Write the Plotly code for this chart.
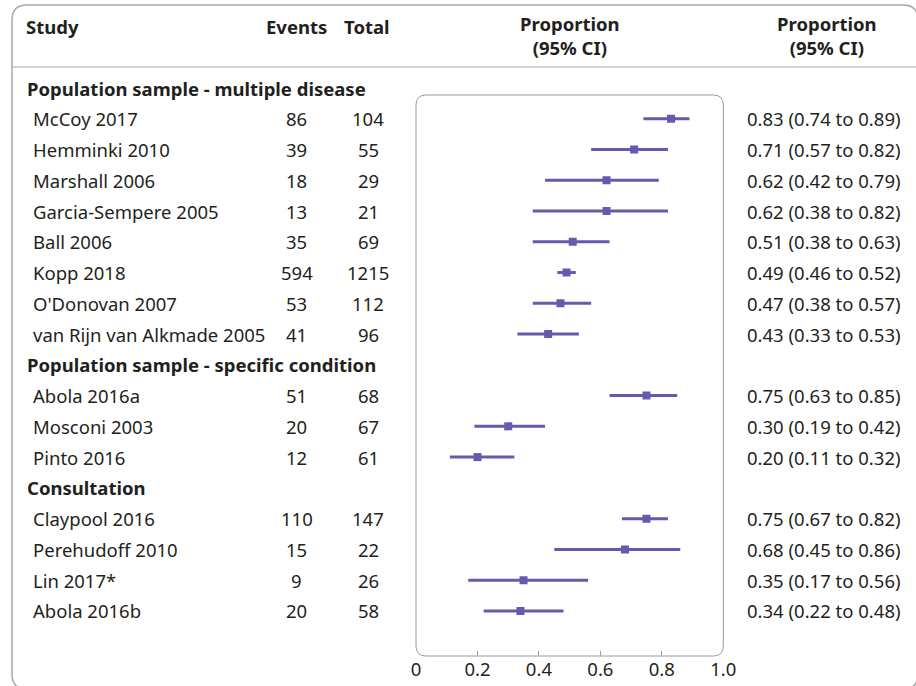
import plotly.graph_objects as go

# ---------------- data ----------------
groups = ["Population sample - multiple disease",
          "Population sample - specific condition",
          "Consultation"]
studies = ["McCoy 2017", "Hemminki 2010", "Marshall 2006", "Garcia-Sempere 2005",
           "Ball 2006", "Kopp 2018", "O'Donovan 2007", "van Rijn van Alkmade 2005",
           "Abola 2016a", "Mosconi 2003", "Pinto 2016",
           "Claypool 2016", "Perehudoff 2010", "Lin 2017*", "Abola 2016b"]
group_of = [0, 0, 0, 0, 0, 0, 0, 0, 1, 1, 1, 2, 2, 2, 2]
events = [86, 39, 18, 13, 35, 594, 53, 41, 51, 20, 12, 110, 15, 9, 20]
totals = [104, 55, 29, 21, 69, 1215, 112, 96, 68, 67, 61, 147, 22, 26, 58]
prop = [0.83, 0.71, 0.62, 0.62, 0.51, 0.49, 0.47, 0.43, 0.75, 0.30, 0.20, 0.75, 0.68, 0.35, 0.34]
ci_lo = [0.74, 0.57, 0.42, 0.38, 0.38, 0.46, 0.38, 0.33, 0.63, 0.19, 0.11, 0.67, 0.45, 0.17, 0.22]
ci_hi = [0.89, 0.82, 0.79, 0.82, 0.63, 0.52, 0.57, 0.53, 0.85, 0.42, 0.32, 0.82, 0.86, 0.56, 0.48]
tick_vals = [0, 0.2, 0.4, 0.6, 0.8, 1.0]
tick_text = ["0", "0.2", "0.4", "0.6", "0.8", "1.0"]

# ---------------- layout constants (reference pixels) ----------------
W, H = 916, 686
ROW0, ROWH = 88, 30.76
FL, FR = 416, 723.3          # forest x-range in px
BOX_T, BOX_B = 95, 656
TXT = "#231f20"
PURPLE = "#6a58ad"
GRAY = "#a8a8a8"
FONT = "Noto Sans"
FS = 18.5

# row indices
group_rows, study_rows = [], []
r = 0
for g in range(len(groups)):
    group_rows.append(r)
    r += 1
    for i in range(len(studies)):
        if group_of[i] == g:
            study_rows.append(r)
            r += 1

fig = go.Figure()
fig.add_trace(go.Scatter(
    x=prop, y=study_rows, mode="markers",
    marker=dict(symbol="square", size=8, color=PURPLE),
    error_x=dict(type="data", symmetric=False,
                 array=[h - p for h, p in zip(ci_hi, prop)],
                 arrayminus=[p - l for p, l in zip(prop, ci_lo)],
                 thickness=3, width=0, color=PURPLE),
    hoverinfo="skip", showlegend=False))


def px(x):
    return x / W


def py(y):
    return 1 - y / H


def rrect(x0, y0, x1, y1, rad):
    def P(x, y):
        return f"{px(x):.5f},{py(y):.5f}"
    return (f"M {P(x0+rad, y0)} L {P(x1-rad, y0)} Q {P(x1, y0)} {P(x1, y0+rad)} "
            f"L {P(x1, y1-rad)} Q {P(x1, y1)} {P(x1-rad, y1)} "
            f"L {P(x0+rad, y1)} Q {P(x0, y1)} {P(x0, y1-rad)} "
            f"L {P(x0, y0+rad)} Q {P(x0, y0)} {P(x0+rad, y0)} Z")


shapes = [
    dict(type="path", xref="paper", yref="paper", path=rrect(12, 5, 918, 689, 15),
         line=dict(color=GRAY, width=1.5), layer="below"),
    dict(type="line", xref="paper", yref="paper", x0=px(12), x1=1, y0=py(67), y1=py(67),
         line=dict(color=GRAY, width=1.2), layer="below"),
    dict(type="path", xref="paper", yref="paper", path=rrect(FL, BOX_T, FR, BOX_B, 10),
         line=dict(color="#9a9a9a", width=1), layer="below"),
]

ann = []


def add_text(text, x, y, yref="y", xanchor="left", bold=False):
    ann.append(dict(text=f"<b>{text}</b>" if bold else text, x=px(x), y=y if yref == "y" else py(y),
                    xref="paper", yref=yref, xanchor=xanchor, yanchor="middle",
                    showarrow=False, font=dict(family=FONT, size=FS, color=TXT)))


# header
add_text("Study", 24, 27, "paper", bold=True)
add_text("Events", 296.5, 27, "paper", "center", True)
add_text("Total", 367, 27, "paper", "center", True)
add_text("Proportion<br>(95% CI)", 570, 35.5, "paper", "center", True)
add_text("Proportion<br>(95% CI)", 827, 35.5, "paper", "center", True)

for g, rr in zip(groups, group_rows):
    add_text(g, 24.5, rr, bold=True)
for i, rr in enumerate(study_rows):
    add_text(studies[i], 31, rr)
    add_text(str(events[i]), 296.5, rr, xanchor="center")
    add_text(str(totals[i]), 368, rr, xanchor="center")
    add_text(f"{prop[i]:.2f} ({ci_lo[i]:.2f} to {ci_hi[i]:.2f})", 745, rr)

fig.update_layout(
    height=H, autosize=True, margin=dict(l=0, r=0, t=0, b=0, autoexpand=False),
    paper_bgcolor="white", plot_bgcolor="rgba(0,0,0,0)",
    shapes=shapes, annotations=ann,
    xaxis=dict(domain=[px(FL), px(FR)], range=[0, 1], anchor="free", position=py(BOX_B),
               showgrid=False, zeroline=False, showline=False,
               tickvals=tick_vals, ticktext=tick_text, ticks="",
               tickfont=dict(family=FONT, size=FS, color=TXT),
               minor=dict(tickvals=[0.2, 0.4, 0.6, 0.8], ticks="inside", ticklen=5,
                          tickcolor="#9a9a9a", tickwidth=1, showgrid=False),
               fixedrange=True),
    yaxis=dict(domain=[0, 1], range=[(H - ROW0) / ROWH, -ROW0 / ROWH], visible=False,
               fixedrange=True),
)

fig.write_html("out.html", config={"displayModeBar": False, "responsive": True},
               default_width="100%",
               post_script=("document.body.style.margin='0';"
                            "document.body.style.overflow='hidden';"
                            "Plotly.Plots.resize(document.getElementById('{plot_id}'));"))
